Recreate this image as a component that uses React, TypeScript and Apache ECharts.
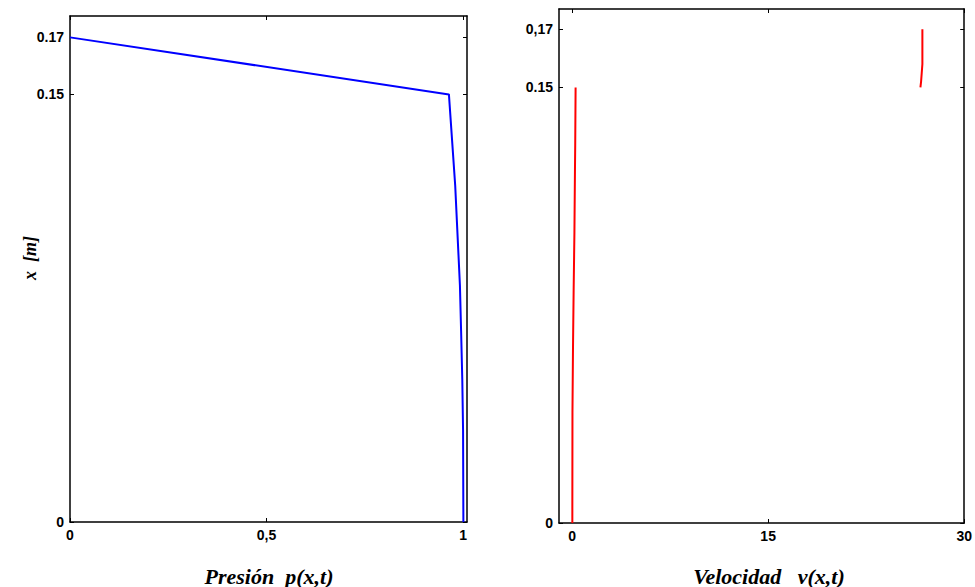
import React, { useEffect, useRef } from "react";
import * as echarts from "echarts";

const pressureX = [0.0, 0.964, 0.98, 0.992, 0.995, 0.998, 1.0, 1.0008];
const pressureDepth = [0.17, 0.15, 0.118, 0.083, 0.067, 0.05, 0.032, 0.0];

const velLowV = [0.27, 0.24, 0.22, 0.18, 0.12, 0.07, 0.03, 0.02];
const velLowDepth = [0.15, 0.13, 0.121, 0.1, 0.08, 0.06, 0.038, 0.0];

const velHighV = [26.65, 26.7, 26.75, 26.8, 26.8];
const velHighDepth = [0.15, 0.152, 0.155, 0.158, 0.17];

const leftYTicks = [0, 0.15, 0.17];
const leftYLabels = ["0", "0.15", "0.17"];
const rightYTicks = [0, 0.15, 0.17];
const rightYLabels = ["0", "0.15", "0,17"];
const leftXTicks = [0, 0.5, 1];
const leftXLabels = ["0", "0,5", "1"];
const rightXTicks = [0, 15, 30];
const rightXLabels = ["0", "15", "30"];

const pair = (a: number[], b: number[]) => a.map((v, i) => [v, b[i]]);

export default function App() {
  const ref = useRef<HTMLDivElement>(null);
  useEffect(() => {
    if (!ref.current) return;
    const chart = echarts.init(ref.current, null, { renderer: "svg" });
    const axisLine = { show: true, onZero: false, lineStyle: { color: "#000", width: 1.5 } };
    const labelStyle = {
      color: "#000",
      fontFamily: "Liberation Sans, Arial, sans-serif",
      fontSize: 14,
      fontWeight: "bold" as const,
    };
    const fmt = (ticks: number[], labels: string[]) => (v: number) => {
      const i = ticks.findIndex((t) => Math.abs(t - v) < 1e-9);
      return i >= 0 ? labels[i] : "";
    };
    const tick = (ticks: number[]) => ({
      show: true,
      inside: true,
      length: 4,
      customValues: ticks,
      lineStyle: { color: "#000", width: 1 },
    });
    const mkX = (grid: number, min: number, max: number, ticks: number[], labels: string[]) => [
      {
        type: "value",
        gridIndex: grid,
        min,
        max,
        position: "bottom",
        axisLine,
        splitLine: { show: false },
        axisTick: tick(ticks),
        axisLabel: { ...labelStyle, margin: 6, customValues: ticks, formatter: fmt(ticks, labels) },
      },
      {
        type: "value",
        gridIndex: grid,
        min,
        max,
        position: "top",
        axisLine,
        splitLine: { show: false },
        axisTick: tick(ticks),
        axisLabel: { show: false },
      },
    ];
    const mkY = (grid: number, min: number, max: number, ticks: number[], labels: string[]) => [
      {
        type: "value",
        gridIndex: grid,
        min,
        max,
        position: "left",
        axisLine,
        splitLine: { show: false },
        axisTick: tick(ticks),
        axisLabel: { ...labelStyle, margin: 6, customValues: ticks, formatter: fmt(ticks, labels) },
      },
      {
        type: "value",
        gridIndex: grid,
        min,
        max,
        position: "right",
        axisLine,
        splitLine: { show: false },
        axisTick: tick(ticks),
        axisLabel: { show: false },
      },
    ];
    const titleFont = "Liberation Serif, Times New Roman, serif";
    chart.setOption({
      animation: false,
      backgroundColor: "#fff",
      grid: [
        { left: 70, top: 16, width: 397, height: 506 },
        { left: 559, top: 9, width: 408, height: 514 },
      ],
      xAxis: [
        ...mkX(0, 0, 1.01, leftXTicks, leftXLabels),
        ...mkX(1, -1, 30, rightXTicks, rightXLabels),
      ],
      yAxis: [
        ...mkY(0, 0, 0.1775, leftYTicks, leftYLabels),
        ...mkY(1, 0, 0.177, rightYTicks, rightYLabels),
      ],
      series: [
        {
          type: "line",
          xAxisIndex: 0,
          yAxisIndex: 0,
          data: pair(pressureX, pressureDepth),
          showSymbol: false,
          symbol: "none",
          lineStyle: { color: "#0000ff", width: 2 },
        },
        {
          type: "line",
          xAxisIndex: 2,
          yAxisIndex: 2,
          data: pair(velLowV, velLowDepth),
          showSymbol: false,
          symbol: "none",
          lineStyle: { color: "#ff0000", width: 2 },
        },
        {
          type: "line",
          xAxisIndex: 2,
          yAxisIndex: 2,
          data: pair(velHighV, velHighDepth),
          showSymbol: false,
          symbol: "none",
          lineStyle: { color: "#ff0000", width: 2 },
        },
      ],
      graphic: [
        {
          type: "text",
          x: 30,
          y: 258,
          rotation: Math.PI / 2,
          style: {
            text: "x  [m]",
            font: `italic bold 18px ${titleFont}`,
            fill: "#000",
            align: "center",
            verticalAlign: "middle",
          },
        },
        {
          type: "text",
          x: 269,
          y: 576,
          style: {
            text: "Presión  p(x,t)",
            font: `italic bold 22px ${titleFont}`,
            fill: "#000",
            align: "center",
            verticalAlign: "middle",
          },
        },
        {
          type: "text",
          x: 769,
          y: 576,
          style: {
            text: "Velocidad   v(x,t)",
            font: `italic bold 22px ${titleFont}`,
            fill: "#000",
            align: "center",
            verticalAlign: "middle",
          },
        },
      ],
    });
    return () => chart.dispose();
  }, []);
  return <div ref={ref} style={{ width: 975, height: 587, position: "absolute", left: 0, top: 0 }} />;
}
